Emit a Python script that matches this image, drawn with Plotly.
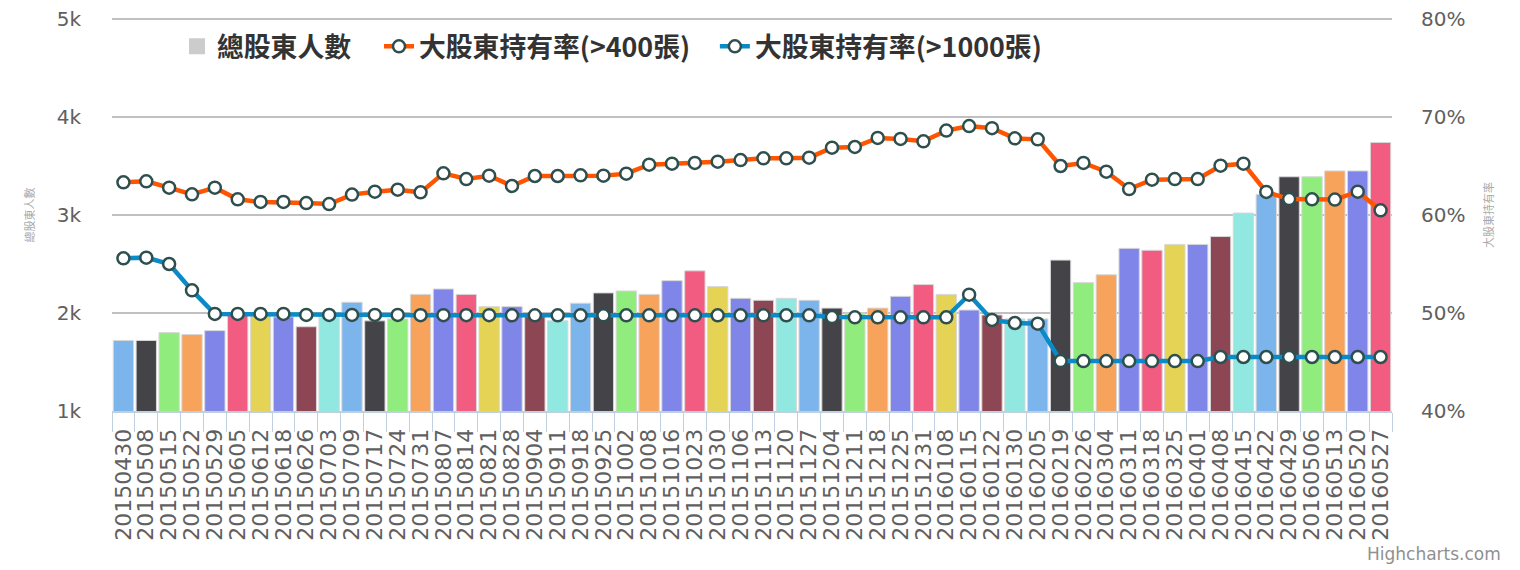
import plotly.graph_objects as go

dates = [
    "20150430", "20150508", "20150515", "20150522", "20150529",
    "20150605", "20150612", "20150618", "20150626",
    "20150703", "20150709", "20150717", "20150724", "20150731",
    "20150807", "20150814", "20150821", "20150828",
    "20150904", "20150911", "20150918", "20150925",
    "20151002", "20151008", "20151016", "20151023", "20151030",
    "20151106", "20151113", "20151120", "20151127",
    "20151204", "20151211", "20151218", "20151225", "20151231",
    "20160108", "20160115", "20160122", "20160130",
    "20160205", "20160219", "20160226",
    "20160304", "20160311", "20160318", "20160325",
    "20160401", "20160408", "20160415", "20160422", "20160429",
    "20160506", "20160513", "20160520", "20160527",
]

# 總股東人數
holders = [
    1720, 1720, 1800, 1780, 1820, 1990, 1990, 1960, 1860, 1960,
    2110, 1920, 1940, 2190, 2245, 2190, 2065, 2065, 1970, 1920,
    2100, 2205, 2225, 2190, 2330, 2430, 2270, 2150, 2130, 2150,
    2130, 2050, 2000, 2050, 2170, 2290, 2190, 2030, 1980, 1940,
    1940, 2540, 2310, 2390, 2660, 2640, 2700, 2700, 2780, 3020,
    3210, 3390, 3390, 3450, 3450, 3740,
]

# 大股東持有率(>400張), %
pct_400 = [
    63.34, 63.44, 62.79, 62.11, 62.79, 61.60, 61.33, 61.33, 61.22, 61.12,
    62.08, 62.38, 62.58, 62.31, 64.25, 63.67, 64.01, 62.96, 63.98, 63.98,
    64.05, 64.01, 64.22, 65.14, 65.24, 65.31, 65.44, 65.61, 65.78, 65.78,
    65.85, 66.87, 66.94, 67.86, 67.76, 67.52, 68.61, 69.08, 68.86, 67.82,
    67.72, 65.00, 65.31, 64.42, 62.65, 63.60, 63.67, 63.67, 65.03, 65.24,
    62.35, 61.63, 61.60, 61.57, 62.38, 60.48,
]

# 大股東持有率(>1000張), %
pct_1000 = [
    55.58, 55.65, 55.00, 52.31, 49.90, 49.90, 49.90, 49.90, 49.80, 49.80,
    49.80, 49.80, 49.80, 49.78, 49.78, 49.78, 49.78, 49.76, 49.76, 49.76,
    49.76, 49.76, 49.76, 49.76, 49.76, 49.76, 49.76, 49.76, 49.76, 49.76,
    49.76, 49.59, 49.56, 49.56, 49.56, 49.56, 49.56, 51.87, 49.29, 48.98,
    48.91, 45.10, 45.10, 45.10, 45.10, 45.10, 45.10, 45.10, 45.51, 45.51,
    45.51, 45.51, 45.51, 45.51, 45.51, 45.51,
]

palette = ["#7cb5ec", "#434348", "#90ed7d", "#f7a35c", "#8085e9",
           "#f15c80", "#e4d354", "#8085e8", "#8d4653", "#91e8e1"]
bar_colors = [palette[i % len(palette)] for i in range(len(dates))]

font_main = "DejaVu Sans, Noto Sans CJK TC, sans-serif"
font_cjk = "Noto Sans CJK TC, DejaVu Sans, sans-serif"
legend_font = dict(family=font_cjk, size=26.8, color="#333333", weight="bold")

fig = go.Figure()

fig.add_trace(go.Bar(
    x=dates, y=holders, name="總股東人數",
    marker=dict(color=bar_colors, line=dict(color="#d8d8d8", width=1)),
    showlegend=False, yaxis="y",
))
# legend entry only (Highcharts shows a grey box for colorByPoint series)
fig.add_trace(go.Scatter(
    x=[None], y=[None], mode="markers", name="總股東人數",
    marker=dict(symbol="square", size=22, color="#cccccc"),
    legend="legend",
))

marker_style = dict(size=12, color="#ffffff", line=dict(color="#2f4f4f", width=2.5))
fig.add_trace(go.Scatter(
    x=dates, y=pct_400, name="大股東持有率(>400張)", yaxis="y2",
    mode="lines+markers", line=dict(color="#ff5500", width=4.5),
    marker=marker_style, legend="legend2",
))
fig.add_trace(go.Scatter(
    x=dates, y=pct_1000, name="大股東持有率(>1000張)", yaxis="y2",
    mode="lines+markers", line=dict(color="#0a8bc7", width=4.5),
    marker=marker_style, legend="legend3",
))


def legend_box(x):
    return dict(orientation="h", x=x, y=0.93, xanchor="left", yanchor="middle",
                font=legend_font, bgcolor="rgba(0,0,0,0)", itemwidth=30)


# page body has an 8px margin, so the figure is drawn 8px smaller
fig.update_layout(
    width=1512, height=562,
    margin=dict(l=104, r=128, t=11, b=159),
    paper_bgcolor="#ffffff", plot_bgcolor="#ffffff",
    bargap=0.11,
    font=dict(family=font_main, color="#606060"),
    legend=legend_box(0.0508),
    legend2=legend_box(0.2086),
    legend3=legend_box(0.471),
    xaxis=dict(
        type="category", tickangle=-90, automargin=False,
        range=[-0.5, len(dates) - 0.5],
        tickmode="array", tickvals=dates,
        tickfont=dict(size=22, color="#606060"), ticklabelstandoff=7,
        showgrid=False, showline=True, linecolor="#c0d0e0", linewidth=2,
        ticks="outside", ticklen=19, tickcolor="#c0d0e0", tickson="boundaries",
    ),
    yaxis=dict(
        range=[1000, 5000], tickvals=[1000, 2000, 3000, 4000, 5000],
        ticktext=["1k", "2k", "3k", "4k", "5k"], automargin=False,
        tickfont=dict(size=20, color="#606060"), ticklabeloverflow="allow",
        showgrid=True, gridcolor="#c0c0c0", gridwidth=2,
        zeroline=False, ticks="", ticklabelstandoff=30,
        title=dict(text="總股東人數", font=dict(family=font_cjk, size=11, color="#aaaaaa"),
                   standoff=19),
    ),
    yaxis2=dict(
        overlaying="y", side="right", automargin=False,
        range=[40, 80], tickvals=[40, 50, 60, 70, 80],
        ticktext=["40%", "50%", "60%", "70%", "80%"],
        tickfont=dict(size=20, color="#606060"), ticklabeloverflow="allow",
        showgrid=False, zeroline=False, ticklabelstandoff=28,
        title=dict(text="大股東持有率", font=dict(family=font_cjk, size=11, color="#aaaaaa"),
                   standoff=20),
    ),
    # top gridline (plotly skips gridlines sitting on the plot edge)
    shapes=[dict(type="line", xref="paper", yref="paper", x0=0, x1=1, y0=1, y1=1,
                 line=dict(color="#c0c0c0", width=2), layer="below")],
    annotations=[dict(
        text="Highcharts.com", xref="paper", yref="paper", x=1.0867, y=-0.365,
        xanchor="right", yanchor="middle", showarrow=False,
        font=dict(family=font_main, size=17, color="#909090"),
    )],
)

fig.write_html("out.html")
